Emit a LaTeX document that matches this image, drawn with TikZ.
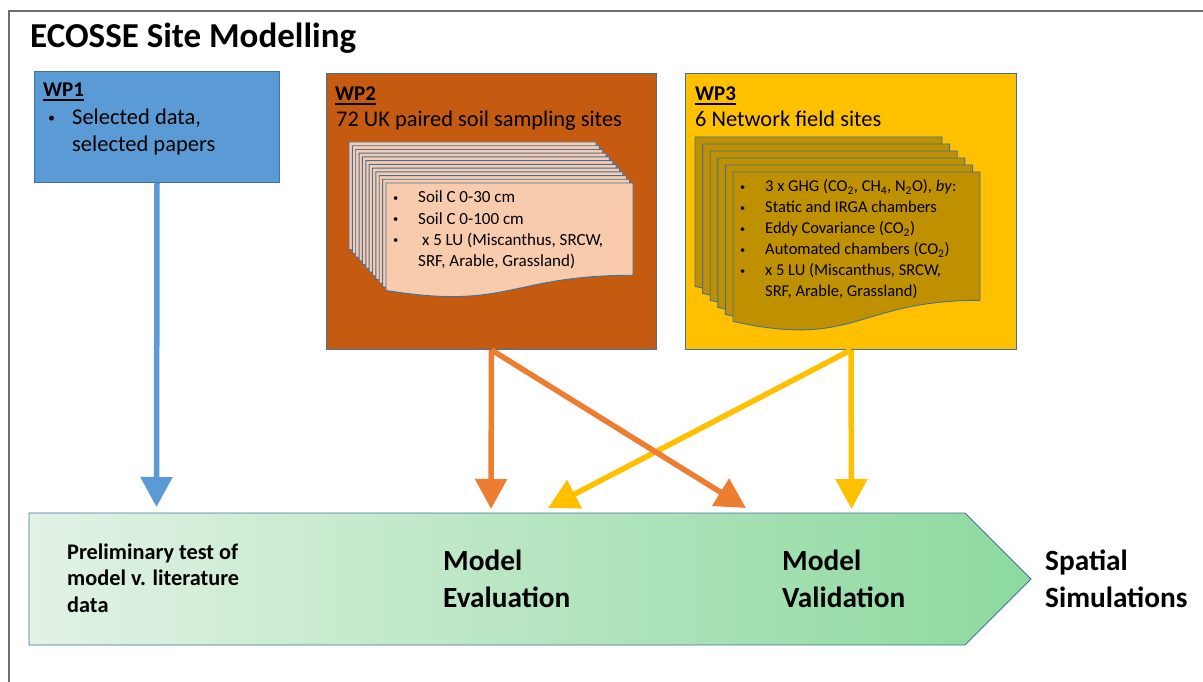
\documentclass[tikz,border=0pt]{standalone}
\usepackage{fontspec}
\usepackage{graphicx}
\setmainfont{Carlito}
\usetikzlibrary{arrows.meta}
\definecolor{wpblue}{HTML}{5B9BD5}
\definecolor{edgeblue}{HTML}{41719C}
\definecolor{wporange}{HTML}{C55A11}
\definecolor{wpyellow}{HTML}{FFC000}
\definecolor{docpeach}{HTML}{F8CBAD}
\definecolor{docgold}{HTML}{BF9000}
\definecolor{arrorange}{HTML}{ED7D31}
\definecolor{greenL}{HTML}{E2F2E5}
\definecolor{greenR}{HTML}{8CD99E}
\definecolor{framegray}{HTML}{6F6F6F}
\newcommand\fsz[2]{\fontsize{#1}{#2}\selectfont}
\newcommand\wpul[1]{\setbox0\hbox{#1}\rlap{\rule[-4pt]{\wd0}{1.8pt}}\box0}
\newcommand\bul{\raisebox{0.1em}{\scalebox{0.62}{•}}}
\tikzset{
  wpbox/.style={draw=edgeblue, line width=1pt, anchor=north west, inner sep=0pt},
  docsheet/.style={draw=edgeblue, line width=0.9pt},
  txt/.style={anchor=base west, inner sep=0pt, text=black},
  flowarrow/.style={line width=5.5pt, -{Triangle[width=31pt,length=30pt]}},
}
\begin{document}
\begin{tikzpicture}[x=1pt,y=-1pt]
\useasboundingbox (0,0) rectangle (1203,682);
\fill[white] (0,0) rectangle (1203,682);
% frame
\draw[framegray, line width=1.3pt] (9,682) -- (9,11) -- (1203,11);
% title
\node[txt] (title) at (30,48) {\fsz{35}{42}\bfseries ECOSSE Site Modelling};
% WP boxes
\node[wpbox, fill=wpblue, minimum width=245pt, minimum height=111pt] (wp1) at (34,71) {};
\node[wpbox, fill=wporange, minimum width=330pt, minimum height=276pt] (wp2) at (326,73) {};
\node[wpbox, fill=wpyellow, minimum width=331pt, minimum height=276pt] (wp3) at (685,73) {};
% WP1 text
\node[txt] (wp1lab) at (43,97) {\fsz{21}{25}\bfseries\wpul{WP1}};
\node[txt] (wp1list) at (48,125) {\fsz{22.5}{26.8}\begin{tabular}[t]{@{}p{24pt}@{}l@{}}\bul&Selected data,\\&selected papers\end{tabular}};
% WP2 text
\node[txt] (wp2lab) at (335,101) {\fsz{21}{25}\bfseries\wpul{WP2}};
\node[txt] (wp2sub) at (336,127) {\fsz{22.4}{26.8}72 UK paired soil sampling sites};
% WP3 text
\node[txt] (wp3lab) at (695,101) {\fsz{21}{25}\bfseries\wpul{WP3}};
\node[txt] (wp3sub) at (695,127) {\fsz{22.4}{26.8}6 Network field sites};
% WP2 document stack
\foreach \i in {0,...,11}{
  \pgfmathsetmacro\dx{349+\i*3.36}
  \pgfmathsetmacro\dy{142+\i*3.73}
  \filldraw[docsheet, fill=docpeach] (\dx,\dy) -- ({\dx+247},\dy) -- ({\dx+247},{\dy+92.2})
    .. controls ({\dx+123.5},{\dy+92.2}) and ({\dx+123.5},{\dy+127.3}) .. (\dx,{\dy+107.4}) -- cycle;
}
\node[txt] (wp2list) at (393,203) {\fsz{17}{21.3}\begin{tabular}[t]{@{}p{25pt}@{}l@{}}
\bul&Soil C 0-30 cm\\
\bul&Soil C 0-100 cm\\
\bul&\ x 5 LU (Miscanthus, SRCW,\\
&SRF, Arable, Grassland)\end{tabular}};
% WP3 document stack
\foreach \i in {0,...,5}{
  \pgfmathsetmacro\dx{695+\i*7.6}
  \pgfmathsetmacro\dy{137+\i*7}
  \filldraw[docsheet, fill=docgold] (\dx,\dy) -- ({\dx+247},\dy) -- ({\dx+247},{\dy+128.3})
    .. controls ({\dx+123.5},{\dy+128.3}) and ({\dx+123.5},{\dy+177.1}) .. (\dx,{\dy+149.4}) -- cycle;
}
\node[txt] (wp3list) at (740,192) {\fsz{16.5}{21}\begin{tabular}[t]{@{}p{25pt}@{}l@{}}
\bul&3 x GHG (CO\textsubscript{2}, CH\textsubscript{4}, N\textsubscript{2}O), \textit{by}:\\
\bul&Static and IRGA chambers\\
\bul&Eddy Covariance (CO\textsubscript{2})\\
\bul&Automated chambers (CO\textsubscript{2})\\
\bul&x 5 LU (Miscanthus, SRCW,\\
&SRF, Arable, Grassland)\end{tabular}};
% green process arrow
\shade[left color=greenL, right color=greenR] (29,513) -- (965,513) -- (1031,579) -- (965,645) -- (29,645) -- cycle;
\draw[edgeblue, line width=0.8pt] (29,513) -- (965,513) -- (1031,579) -- (965,645) -- (29,645) -- cycle;
\node[txt] (prelim) at (67,559) {\fsz{22.3}{26.5}\bfseries\begin{tabular}[t]{@{}l@{}}Preliminary test of\\model v. literature\\data\end{tabular}};
\node[txt] (modeval) at (443,570) {\fsz{29.3}{37}\bfseries\begin{tabular}[t]{@{}l@{}}Model\\Evaluation\end{tabular}};
\node[txt] (modval) at (782,570) {\fsz{29.3}{37}\bfseries\begin{tabular}[t]{@{}l@{}}Model\\Validation\end{tabular}};
\node[txt] (spatial) at (1045,570) {\fsz{29.3}{37}\bfseries\begin{tabular}[t]{@{}l@{}}Spatial\\Simulations\end{tabular}};
% arrow targets
\coordinate (t1) at (156.5,507);
\coordinate (t2a) at (491,509);
\coordinate (t2b) at (746,508);
\coordinate (t3a) at (548,508);
\coordinate (t3b) at (851.5,509);
% arrows
\draw[flowarrow, wpblue] (wp1.south) -- (t1);
\draw[flowarrow, wpyellow] (wp3.south) -- (t3a);
\draw[flowarrow, wpyellow] (wp3.south) -- (t3b);
\draw[flowarrow, arrorange] (wp2.south) -- (t2a);
\draw[flowarrow, arrorange] (wp2.south) -- (t2b);
\end{tikzpicture}
\end{document}
